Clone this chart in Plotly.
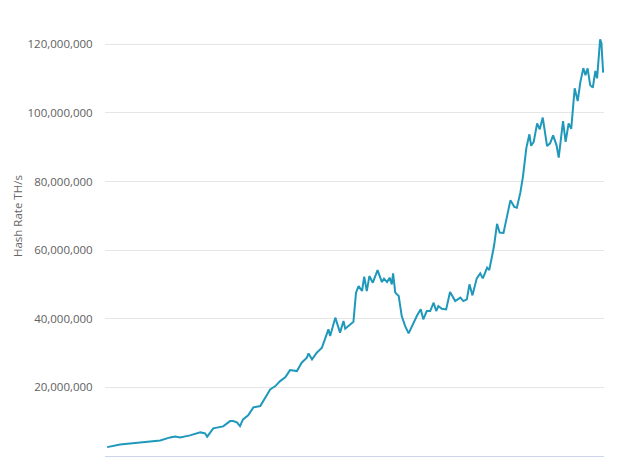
import plotly.graph_objects as go

dates = [
    "2017-01-01", "2017-01-15", "2017-01-31", "2017-02-23", "2017-03-19", "2017-04-11",
    "2017-05-04", "2017-05-27", "2017-06-08", "2017-06-19", "2017-07-12", "2017-08-05",
    "2017-08-16", "2017-08-21", "2017-09-04", "2017-09-27", "2017-10-13", "2017-10-20",
    "2017-10-29", "2017-11-05", "2017-11-12", "2017-11-24", "2017-12-06", "2017-12-22",
    "2017-12-29", "2018-01-14", "2018-01-26", "2018-02-06", "2018-02-18", "2018-03-01",
    "2018-03-17", "2018-03-28", "2018-04-09", "2018-04-13", "2018-04-21", "2018-05-02",
    "2018-05-14", "2018-05-22", "2018-05-29", "2018-06-02", "2018-06-14", "2018-06-25",
    "2018-07-03", "2018-07-07", "2018-07-26", "2018-08-01", "2018-08-07", "2018-08-15",
    "2018-08-20", "2018-08-26", "2018-09-01", "2018-09-09", "2018-09-20", "2018-09-30",
    "2018-10-05", "2018-10-12", "2018-10-18", "2018-10-23", "2018-10-26", "2018-10-31",
    "2018-11-08", "2018-11-15", "2018-11-23", "2018-12-01", "2018-12-12", "2018-12-20",
    "2018-12-29", "2019-01-04", "2019-01-12", "2019-01-20", "2019-01-28", "2019-02-03",
    "2019-02-08", "2019-02-16", "2019-02-26", "2019-03-07", "2019-03-19", "2019-03-31",
    "2019-04-07", "2019-04-15", "2019-04-21", "2019-04-28", "2019-05-08", "2019-05-16",
    "2019-05-22", "2019-06-01", "2019-06-06", "2019-06-12", "2019-06-17", "2019-06-24",
    "2019-06-30", "2019-07-09", "2019-07-17", "2019-07-25", "2019-08-03", "2019-08-09",
    "2019-08-17", "2019-08-23", "2019-08-31", "2019-09-07", "2019-09-11", "2019-09-17",
    "2019-09-25", "2019-10-01", "2019-10-08", "2019-10-15", "2019-10-18", "2019-10-25",
    "2019-11-01", "2019-11-09", "2019-11-14", "2019-11-24", "2019-11-30", "2019-12-07",
    "2019-12-13", "2019-12-21", "2019-12-28", "2020-01-03", "2020-01-10", "2020-01-15",
    "2020-01-20", "2020-01-26", "2020-02-01", "2020-02-07", "2020-02-11", "2020-02-18",
    "2020-02-21", "2020-02-25",
]

hash_rate_m = [
    2.59, 2.94, 3.38, 3.67, 3.97, 4.26,
    4.55, 5.42, 5.71, 5.42, 6.01, 6.88,
    6.59, 5.63, 8.05, 8.63, 10.17, 10.17,
    9.80, 8.72, 10.67, 11.84, 14.17, 14.55,
    16.01, 19.42, 20.38, 21.84, 22.92, 25.04,
    24.75, 27.20, 28.66, 29.91, 28.16, 30.12,
    31.57, 34.49, 36.91, 34.96, 40.32, 35.95,
    39.33, 37.11, 39.10, 47.61, 49.53, 48.08,
    52.27, 48.08, 52.45, 50.52, 54.20, 50.70,
    51.69, 50.70, 51.98, 50.03, 53.24, 47.61,
    46.62, 40.79, 37.87, 35.74, 38.86, 40.79,
    42.74, 39.83, 42.24, 42.24, 44.69, 42.24,
    43.70, 42.94, 42.74, 47.78, 45.16, 46.15,
    45.16, 45.66, 50.03, 46.82, 51.78, 53.24,
    51.78, 54.90, 54.20, 58.48, 61.20, 67.67,
    65.10, 65.04, 70.15, 74.52, 72.62, 72.39,
    76.76, 81.37, 89.83, 93.76, 90.41, 91.57,
    96.97, 95.22, 98.63, 93.47, 90.35, 91.14,
    93.47, 90.55, 86.97, 97.64, 91.57, 96.97,
    95.37, 107.17, 103.47, 108.83, 113.06, 111.02,
    112.97, 108.10, 107.38, 112.22, 110.09, 121.46,
    120.29, 111.75,
]
hash_rate = [v * 1e6 for v in hash_rate_m]

tick_vals = [20e6, 40e6, 60e6, 80e6, 100e6, 120e6]
tick_text = ["20,000,000", "40,000,000", "60,000,000", "80,000,000", "100,000,000", "120,000,000"]

fig = go.Figure()
fig.add_trace(go.Scatter(
    x=dates, y=hash_rate, mode="lines",
    line=dict(color="#1f98bb", width=2),
    hoverinfo="skip",
))

fig.update_layout(
    width=611, height=449,
    margin=dict(l=97, r=15, t=2, b=1, autoexpand=False),
    paper_bgcolor="white", plot_bgcolor="white",
    showlegend=False,
    font=dict(family="Open Sans, Arial, sans-serif", size=12, color="#666666"),
    xaxis=dict(
        range=["2016-12-27", "2020-02-27"],
        showgrid=False, showticklabels=False, ticks="",
        showline=True, linecolor="#ccd6eb", linewidth=1,
        zeroline=False,
    ),
    yaxis=dict(
        range=[0, 130e6],
        tickvals=tick_vals, ticktext=tick_text,
        showgrid=True, gridcolor="#e6e6e6", gridwidth=1,
        zeroline=False, showline=False,
        ticks="outside", ticklen=9, tickcolor="rgba(0,0,0,0)",
        tickfont=dict(size=11.5, color="#606060"),
    ),
    annotations=[dict(
        text="Hash Rate TH/s", xref="paper", yref="paper",
        x=(9 - 97) / 499, y=0.538, xanchor="center", yanchor="middle",
        textangle=-90, showarrow=False,
        font=dict(size=11.5, color="#666666"),
    )],
)

fig.write_html("out.html")
